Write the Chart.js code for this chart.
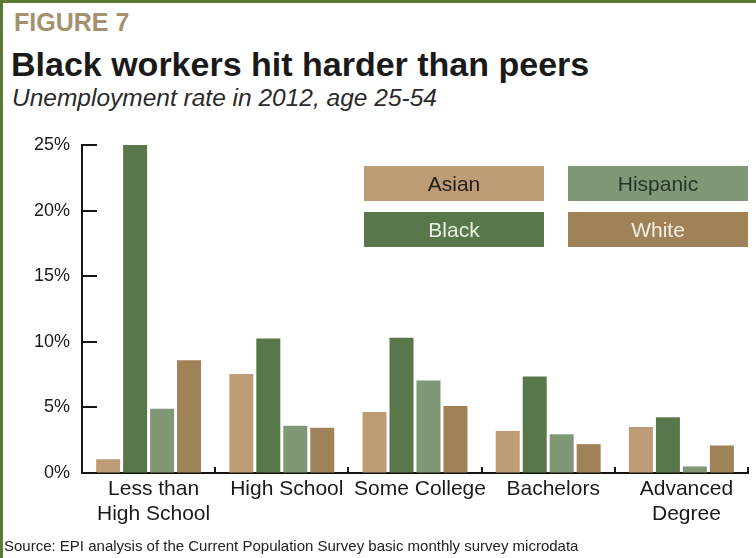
<!DOCTYPE html>
<html>
<head>
<meta charset="utf-8">
<script src="https://cdn.jsdelivr.net/npm/chart.js@4.4.0/dist/chart.umd.min.js"></script>
<style>
  html, body { margin: 0; padding: 0; background: #fff; }
  #page { position: relative; width: 756px; height: 558px; overflow: hidden; background: #fff; }
  #page canvas { position: absolute; left: 0; top: 0; }
  .edge { position: absolute; background: #5d7a34; }
  .txt { position: absolute; white-space: nowrap; line-height: 1; font-family: 'Liberation Sans', Arial, sans-serif; }
  #fig { left: 14px; top: 10px; font-size: 25px; font-weight: bold; color: #a4926f; }
  #title { left: 11px; top: 47px; font-size: 34px; font-weight: bold; color: #1a1a1a; }
  #subtitle { left: 12px; top: 86px; font-size: 24.5px; font-style: italic; color: #2a2a2a; }
  #source { left: 4px; top: 538px; font-size: 15px; color: #222; }
  #legend { position: absolute; left: 364px; top: 166px; display: grid; grid-template-rows: 35px 35px; grid-auto-flow: column; grid-auto-columns: 180px; column-gap: 24px; row-gap: 11px; }
  #legend div { display: flex; align-items: center; justify-content: center; font-size: 21px; font-family: 'Liberation Sans', Arial, sans-serif; }
</style>
</head>
<body>
<div id="page">
  <div class="edge" style="left:0;top:0;width:3px;height:558px;"></div>
  <div class="edge" style="left:0;top:0;width:756px;height:3px;"></div>
  <div class="txt" id="fig">FIGURE 7</div>
  <div class="txt" id="title">Black workers hit harder than peers</div>
  <div class="txt" id="subtitle">Unemployment rate in 2012, age 25-54</div>
  <canvas id="chart" width="756" height="558"></canvas>
  <div id="legend"></div>
  <div class="txt" id="source">Source: EPI analysis of the Current Population Survey basic monthly survey microdata</div>
</div>
<script>
// education levels
const categories = [['Less than', 'High School'], 'High School', 'Some College', 'Bachelors', ['Advanced', 'Degree']];

// unemployment rate, percent
const asian    = [1.05, 7.55, 4.65, 3.2, 3.5];
const black    = [25.0, 10.25, 10.3, 7.35, 4.25];
const hispanic = [4.9, 3.6, 7.05, 2.95, 0.5];
const white    = [8.6, 3.45, 5.1, 2.2, 2.1];

const seriesNames = ['Asian', 'Black', 'Hispanic', 'White'];
const seriesColors = ['#be9d76', '#58784b', '#809875', '#a08258'];
const legendTextColors = ['#1e1e1e', '#e9efe2', '#263626', '#f5efe2'];

const yTicks = [0, 5, 10, 15, 20, 25];

const font = "'Liberation Sans', Arial, sans-serif";

// short tick marks inside the plot, like the original figure
const innerTicks = {
    id: 'innerTicks',
    afterDraw(chart) {
        const { ctx, chartArea, scales } = chart;
        const x = scales.x, y = scales.y;
        ctx.save();
        ctx.strokeStyle = '#151515';
        ctx.lineWidth = 2;
        ctx.beginPath();
        yTicks.forEach(v => {
            const py = Math.round(y.getPixelForValue(v));
            ctx.moveTo(chartArea.left, py);
            ctx.lineTo(chartArea.left + 15, py);
        });
        for (let i = 1; i <= categories.length; i++) {
            const px = Math.round(x.getPixelForValue(i - 0.5));
            ctx.moveTo(px, chartArea.bottom);
            ctx.lineTo(px, chartArea.bottom - 6);
        }
        ctx.stroke();
        ctx.restore();
    }
};

const datasets = [asian, black, hispanic, white].map((vals, i) => ({
    label: seriesNames[i],
    data: vals,
    backgroundColor: seriesColors[i],
    borderWidth: 0,
    categoryPercentage: 0.81,
    barPercentage: 0.89
}));

// legend boxes with the name inside
const legendEl = document.getElementById('legend');
seriesNames.forEach((name, i) => {
    const box = document.createElement('div');
    box.textContent = name;
    box.style.background = seriesColors[i];
    box.style.color = legendTextColors[i];
    legendEl.appendChild(box);
});

new Chart(document.getElementById('chart').getContext('2d'), {
    type: 'bar',
    data: { labels: categories, datasets: datasets },
    options: {
        responsive: false,
        animation: false,
        layout: { padding: { top: 145, left: 0, right: 8, bottom: 0 } },
        plugins: { legend: { display: false }, tooltip: { enabled: false } },
        scales: {
            x: {
                grid: { drawOnChartArea: false, drawTicks: false },
                border: { color: '#151515', width: 2 },
                ticks: { font: { family: font, size: 21, lineHeight: 1.22 }, color: '#1a1a1a', padding: 3, labelOffset: 5, maxRotation: 0, autoSkip: false },
                afterFit: s => { s.height = 85; }
            },
            y: {
                min: 0,
                max: 25,
                afterBuildTicks: s => { s.ticks = yTicks.map(v => ({ value: v })); },
                grid: { drawOnChartArea: false, drawTicks: false },
                border: { color: '#151515', width: 2 },
                ticks: { font: { family: font, size: 18 }, color: '#1a1a1a', padding: 12, callback: v => v + '%' },
                afterFit: s => { s.width = 82; }
            }
        }
    },
    plugins: [innerTicks]
});
</script>
</body>
</html>
